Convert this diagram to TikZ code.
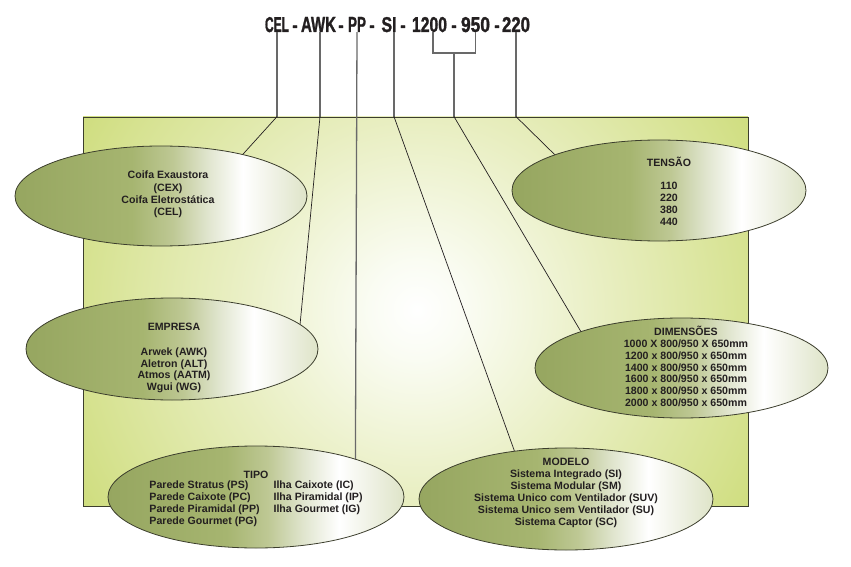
\documentclass[tikz,border=0pt]{standalone}
\usepackage{fontspec}
\setmainfont{Liberation Sans}
\newfontfamily\heavyfont{Liberation Sans}[BoldFeatures={FakeBold=1.6}]
\usepackage{graphicx}
\usetikzlibrary{shapes.geometric}

\definecolor{ink}{RGB}{35,31,32}
\definecolor{stemgray}{RGB}{105,105,105}
\definecolor{rim}{RGB}{60,62,45}
\definecolor{pA}{RGB}{250,252,243}
\definecolor{pB}{RGB}{232,238,192}
\definecolor{pC}{RGB}{214,226,144}
\definecolor{pD}{RGB}{205,220,122}
\definecolor{olA}{RGB}{150,166,96}
\definecolor{olB}{RGB}{166,181,112}
\definecolor{olC}{RGB}{190,200,148}
\definecolor{olD}{RGB}{224,229,206}
\definecolor{olE}{RGB}{240,242,230}
\definecolor{olF}{RGB}{222,228,200}

\pgfdeclareradialshading{panelshade}{\pgfpoint{0bp}{0bp}}{color(0bp)=(white); color(3bp)=(pA); color(12bp)=(pB); color(21bp)=(pC); color(25bp)=(pD); color(50bp)=(pD)}
\pgfdeclarehorizontalshading{ellshade}{100bp}{color(0bp)=(olA); color(25bp)=(olA); color(45bp)=(olB); color(52bp)=(olC); color(58bp)=(olD); color(64bp)=(white); color(69bp)=(olE); color(75bp)=(olF); color(100bp)=(olF)}

\newcommand\mytokbox[2]{\resizebox{#1}{15pt}{\fontsize{20}{20}\selectfont\heavyfont\bfseries #2}}
\newcommand\mytitledash{\scalebox{0.8}[1]{\fontsize{20}{20}\selectfont\heavyfont\bfseries -}}

\begin{document}
\begin{tikzpicture}[x=1pt,y=-1pt,
  panel/.style={rectangle, minimum width=665pt, minimum height=389pt, inner sep=0pt,
    draw=rim, line width=0.8pt,
    path picture={\shade[shading=panelshade] ([shift={(1.5pt,1.5pt)}]path picture bounding box.center) circle (400pt);}},
  blob/.style={ellipse, draw=rim, line width=0.8pt, shade, shading=ellshade, inner sep=0pt},
  lbl/.style={font=\fontsize{10.6}{12}\selectfont\bfseries, text=ink, align=center, inner sep=0pt},
  tok/.style={text=ink, inner sep=0pt, anchor=base},
  stem/.style={draw=stemgray, line width=1.3pt},
  link/.style={draw=ink, line width=0.7pt}]
\useasboundingbox (0,0) rectangle (851,567);

% panel
\node[panel] (panel) at (415.5,311.5) {};

% ellipses
\node[blob, minimum width=292pt, minimum height=100pt] (coifa) at (161,196) {};
\node[blob, minimum width=294pt, minimum height=101pt] (tensao) at (659,190.5) {};
\node[blob, minimum width=292pt, minimum height=102pt] (empresa) at (172,349) {};
\node[blob, minimum width=293pt, minimum height=100pt] (dim) at (681.5,368) {};
\node[blob, minimum width=296pt, minimum height=102pt] (tipo) at (256,497) {};
\node[blob, minimum width=294pt, minimum height=102pt] (modelo) at (566,499) {};

% texts
\node[lbl, font=\fontsize{10.6}{12.3}\selectfont\bfseries] (tcoifa) at (168,194.5)
  {Coifa Exaustora\\(CEX)\\Coifa Eletrostática\\(CEL)};
\node[lbl] (ttensao) at (669,191) {TENSÃO\\[11pt]110\\220\\380\\440};
\node[lbl, font=\fontsize{10.6}{11.8}\selectfont\bfseries] (tempresa) at (174,358)
  {EMPRESA\\[13pt]Arwek (AWK)\\Aletron (ALT)\\Atmos (AATM)\\Wgui (WG)};
\node[lbl, font=\fontsize{10.6}{11.8}\selectfont\bfseries] (tdim) at (686,366.5)
  {DIMENSÕES\\1000 X 800/950 X 650mm\\1200 x 800/950 x 650mm\\1400 x 800/950 x 650mm\\1600 x 800/950 x 650mm\\1800 x 800/950 x 650mm\\2000 x 800/950 x 650mm};
\node[lbl] (ttipo) at (256,499.5)
  {TIPO\\\begin{tabular}{@{}l@{\hspace{14pt}}l@{}}
  Parede Stratus (PS) & Ilha Caixote (IC)\\
  Parede Caixote (PC) & Ilha Piramidal (IP)\\
  Parede Piramidal (PP) & Ilha Gourmet (IG)\\
  Parede Gourmet (PG) &
  \end{tabular}};
\node[lbl] (tmodelo) at (566,493)
  {MODELO\\Sistema Integrado (SI)\\Sistema Modular (SM)\\Sistema Unico com Ventilador (SUV)\\Sistema Unico sem Ventilador (SU)\\Sistema Captor (SC)};

% title tokens
\node[tok] (cel) at (277,32) {\mytokbox{24pt}{CEL}};
\node[tok] (d1) at (295,32) {\mytitledash};
\node[tok] (awk) at (318.5,32) {\mytokbox{35pt}{AWK}};
\node[tok] (d2) at (341,32) {\mytitledash};
\node[tok] (pp) at (357,32) {\mytokbox{18pt}{PP}};
\node[tok] (d3) at (372,32) {\mytitledash};
\node[tok] (si) at (389,32) {\mytokbox{15pt}{SI}};
\node[tok] (d4) at (403,32) {\mytitledash};
\node[tok] (nA) at (429.5,32) {\mytokbox{35pt}{1200}};
\node[tok] (d5) at (454,32) {\mytitledash};
\node[tok] (nB) at (475.5,32) {\mytokbox{29pt}{950}};
\node[tok] (d6) at (497,32) {\mytitledash};
\node[tok] (nC) at (516,32) {\mytokbox{28pt}{220}};

% connector points
\coordinate (awkA) at ([xshift=1.5pt]awk.south);
\coordinate (siA) at ([xshift=5pt]si.south);
\coordinate (nAA) at ([xshift=3.5pt]nA.south);
\coordinate (brk) at (454,53);

% connectors
\draw[stem] (cel.south) -- (cel.south |- panel.north);
\draw[link] (cel.south |- panel.north) -- (coifa.27.6);

\draw[stem] (awkA) -- (awkA |- panel.north);
\draw[link] (awkA |- panel.north) -- (empresa.11.1);

\draw[stem] (pp.south) -- (tipo.21.5);

\draw[stem] (siA) -- (siA |- panel.north);
\draw[link] (siA |- panel.north) -- (modelo.137.9);

\draw[stem] (nAA) -- (nAA |- brk) -- (nB.south |- brk) -- (nB.south);
\draw[stem] (brk) -- (brk |- panel.north);
\draw[link] (brk |- panel.north) -- (dim.160.7);

\draw[stem] (nC.south) -- (nC.south |- panel.north);
\draw[link] (nC.south |- panel.north) -- (tensao.161.7);
\end{tikzpicture}
\end{document}
